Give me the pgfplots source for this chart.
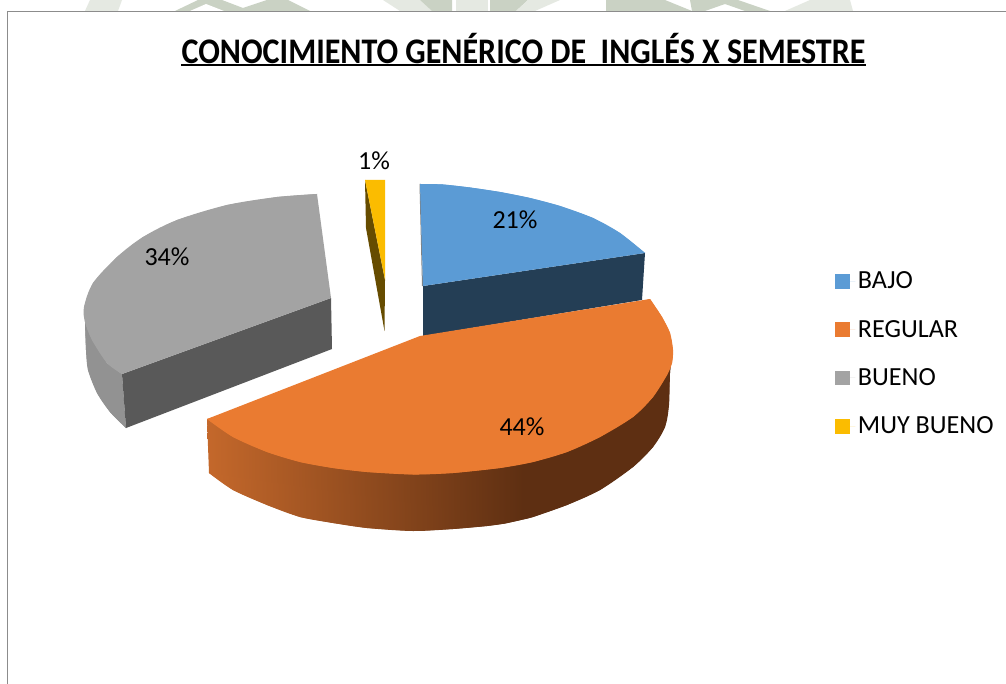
\documentclass[border=0pt]{standalone}
\usepackage{graphicx}
\usepackage{pgfplots}
\pgfplotsset{compat=1.18}
\usepackage{fontspec}
\setmainfont{Carlito}
\definecolor{bajo}{HTML}{5B9BD5}
\definecolor{bajoside}{HTML}{243E55}
\definecolor{regular}{HTML}{EA7B31}
\definecolor{regside}{HTML}{5E2F12}
\definecolor{regleft}{HTML}{C4682B}
\definecolor{bueno}{HTML}{A3A3A3}
\definecolor{buenoside}{HTML}{595959}
\definecolor{buenoleft}{HTML}{929292}
\definecolor{muybueno}{HTML}{FBBC00}
\definecolor{mbside}{HTML}{664C00}
\definecolor{wmark}{HTML}{CAD2C4}
\definecolor{wlight}{HTML}{E5E9E2}
\definecolor{frame}{HTML}{8C8C8C}
\begin{document}
\begin{tikzpicture}
\begin{axis}[
  hide axis, scale only axis, width=754.5pt, height=513pt,
  xmin=0, xmax=1006, ymin=0, ymax=684, y dir=reverse, clip=true,
  legend style={at={(axis cs:835,269)}, anchor=north west, draw=none, fill=none,
    font=\fontsize{19.6pt}{24pt}\selectfont, row sep=18pt, inner sep=0pt},
  legend cell align=left,
  legend image code/.code={\fill[#1] (0pt,-5.6pt) rectangle (11.25pt,5.6pt); \path (0pt,0pt) -- (15pt,0pt);},
]
% page background keeps the bounding box at the full picture
\addplot[forget plot, draw=none, fill=white] coordinates {(0,0) (1006,0) (1006,684) (0,684)} -- cycle;
% watermark behind the frame
\addplot[forget plot, draw=none, fill=wlight] coordinates {(85,11) (90,0) (122,0) (118,11)} -- cycle;
\addplot[forget plot, draw=none, fill=wmark] coordinates {(175,11) (198,0) (222,0) (243,8) (267,0) (288,0) (310,11)} -- cycle;
\addplot[forget plot, draw=none, fill=white] coordinates {(190,11) (206,4) (224,11)} -- cycle;
\addplot[forget plot, draw=none, fill=wlight] coordinates {(383,0) (420,0) (432,11) (400,11)} -- cycle;
\addplot[forget plot, draw=none, fill=wmark] coordinates {(420,0) (452,0) (452,11) (432,11)} -- cycle;
\addplot[forget plot, draw=none, fill=wlight] coordinates {(456,0) (488,0) (488,11) (456,11)} -- cycle;
\addplot[forget plot, draw=none, fill=wmark] coordinates {(490,0) (528,0) (516,11) (490,11)} -- cycle;
\addplot[forget plot, draw=none, fill=wlight] coordinates {(528,0) (560,0) (535,11) (516,11)} -- cycle;
\addplot[forget plot, draw=none, fill=wmark] coordinates {(606,0) (665,0) (692,11) (606,11)} -- cycle;
\addplot[forget plot, draw=none, fill=wmark] coordinates {(690,0) (738,0) (770,11) (745,11) (725,4) (705,11) (692,11)} -- cycle;
\addplot[forget plot, draw=none, fill=wlight] coordinates {(785,11) (810,0) (850,0) (853,11)} -- cycle;
% frame
\addplot[forget plot, draw=frame, line width=0.9pt] coordinates {(7.5,684) (7.5,11.5) (1006,11.5)};
% gray slice sides
\addplot[forget plot, draw=none, fill=buenoleft] coordinates {(85,322) (86,350) (88,370) (97,393) (110,412) (126,428) (122,374) (107,363)} -- cycle;
\addplot[forget plot, smooth, draw=none, fill=buenoleft] coordinates {(85,322) (86,350) (88,370) (97,393) (110,412) (126,428)};
\addplot[forget plot, draw=none, fill=buenoside] coordinates {(331,298) (332,349) (126,428) (122,374)} -- cycle;
% blue slice
\addplot[forget plot, draw=none, fill=bajoside] coordinates {(423,286) (645,253) (642,300) (423,336)} -- cycle;
\addplot[forget plot, draw=none, fill=gray] coordinates {(419.5,184) (420.5,184) (423,286) (422,286)} -- cycle;
\addplot[draw=none, fill=bajo] coordinates {(423,286) (420,184) (443,184.5) (470,187.5) (500,192) (530,198) (560,206) (593,218) (620,233) (645,253)} -- cycle;
\addplot[forget plot, smooth, draw=none, fill=bajo] coordinates {(420,184) (443,184.5) (470,187.5) (500,192) (530,198) (560,206) (593,218) (620,233) (645,253)};
% orange slice
\addplot[forget plot, draw=none, left color=regleft, right color=regside] coordinates {(207,419) (209,473) (233,490) (267,505) (300,517) (333,523) (367,528) (413,531) (453,529) (487,526) (505,523.5) (523,519.5) (523,440)} -- cycle;
\addplot[forget plot, smooth, draw=none, left color=regleft, right color=regside] coordinates {(209,473) (233,490) (267,505) (300,517) (333,523) (367,528) (413,531) (453,529) (487,526) (505,523.5) (523,519.5)};
\addplot[forget plot, draw=none, fill=regside] coordinates {(522.5,440) (522.5,519.6) (533,517) (567,505) (600,490) (633,467) (653,447) (665,427) (668,410) (670,373) (672,350)} -- cycle;
\addplot[forget plot, smooth, draw=none, fill=regside] coordinates {(522.5,519.6) (533,517) (567,505) (600,490) (633,467) (653,447) (665,427) (669,405) (670,373) (672,350)};
\addplot[draw=none, fill=regular] coordinates {(420,336) (650,299) (662,317) (670,333) (673,350) (672,363) (667,375) (653,397) (633,417) (600,437) (567,452) (533,462) (500,468) (453,473) (413,474.5) (367,472) (333,468) (300,462) (267,452) (233,437) (207,419)} -- cycle;
\addplot[forget plot, smooth, draw=none, fill=regular] coordinates {(650,299) (662,317) (670,333) (673,350) (672,363) (667,375) (653,397) (633,417) (600,437) (567,452) (533,462) (500,468) (453,473) (413,474.5) (367,472) (333,468) (300,462) (267,452) (233,437) (207,419)};
% gray slice top
\addplot[draw=none, fill=bueno] coordinates {(331,298) (317,194) (277,197) (227,205) (177,220) (143,237) (117,257) (93,283) (84,307) (85,322) (92,340) (107,363) (122,374)} -- cycle;
\addplot[forget plot, smooth, draw=none, fill=bueno] coordinates {(317,194) (277,197) (227,205) (177,220) (143,237) (117,257) (93,283) (84,307) (85,322) (92,340) (107,363) (122,374)};
% yellow slice
\addplot[forget plot, draw=none, fill=mbside] coordinates {(365,180) (366,228) (384.5,331) (385,280)} -- cycle;
\addplot[draw=none, fill=muybueno] coordinates {(365,180) (385,180) (385,280)} -- cycle;
\legend{BAJO, REGULAR, BUENO, MUY BUENO}
% title underline
\addplot[forget plot, draw=black, line width=2pt] coordinates {(181,65) (866,65)};
\node[font=\fontsize{27pt}{30pt}\selectfont\bfseries, anchor=center] at (axis cs:523.5,49) {\scalebox{0.89}[1]{CONOCIMIENTO GENÉRICO DE~ INGLÉS X SEMESTRE}};
\node[font=\fontsize{19.5pt}{24pt}\selectfont] at (axis cs:515,220) {21\%};
\node[font=\fontsize{19.5pt}{24pt}\selectfont] at (axis cs:522,427) {44\%};
\node[font=\fontsize{19.5pt}{24pt}\selectfont] at (axis cs:167,257) {34\%};
\node[font=\fontsize{19.5pt}{24pt}\selectfont] at (axis cs:374,161) {1\%};
\end{axis}
\end{tikzpicture}
\end{document}
